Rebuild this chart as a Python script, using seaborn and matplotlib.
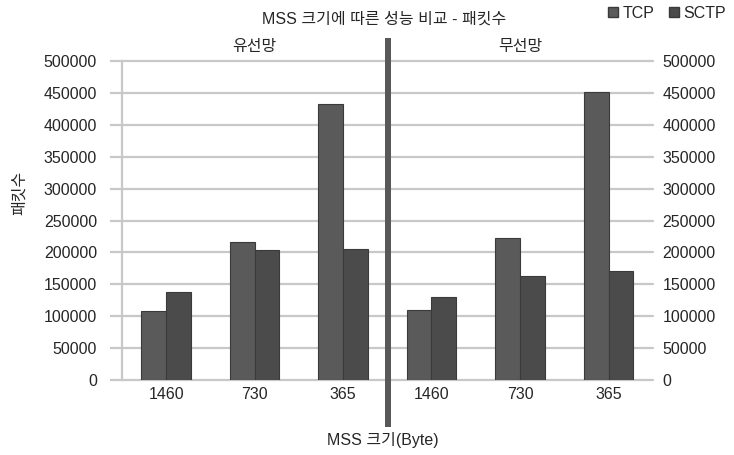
import matplotlib
matplotlib.use("Agg")
import matplotlib.pyplot as plt
import matplotlib.patches as mpatches
import seaborn as sns
import pandas as pd

# MSS sizes (bytes) on the x axis
mss_sizes = ["1460", "730", "365"]
protocols = ["TCP", "SCTP"]

# Packet counts, wired network
wired_tcp = [108000, 216000, 432000]
wired_sctp = [138000, 204000, 205000]

# Packet counts, wireless network
wireless_tcp = [110000, 222000, 452000]
wireless_sctp = [130000, 163000, 171000]

panel_titles = ["유선망", "무선망"]
yticks = list(range(0, 500001, 50000))

sns.set_theme(style="white")
plt.rcParams["font.family"] = ["Liberation Sans", "Noto Sans CJK KR", "DejaVu Sans"]

palette = {"TCP": "#5a5a5a", "SCTP": "#4b4b4b"}
grid_color = "#c8c8c8"
text_color = "#262626"
fs = 11.5


def make_frame(tcp, sctp):
    rows = []
    for size, t, s in zip(mss_sizes, tcp, sctp):
        rows.append({"MSS": size, "protocol": "TCP", "packets": t})
        rows.append({"MSS": size, "protocol": "SCTP", "packets": s})
    return pd.DataFrame(rows)


W, H = 734, 455
fig = plt.figure(figsize=(W / 100, H / 100), dpi=100)

ax_bottom = 1 - 380 / H
ax_height = (380 - 61) / H
ax_left = fig.add_axes([122 / W, ax_bottom, (387 - 122) / W, ax_height])
ax_right = fig.add_axes([387 / W, ax_bottom, (653 - 387) / W, ax_height])

frames = [make_frame(wired_tcp, wired_sctp), make_frame(wireless_tcp, wireless_sctp)]

for ax, df, title in zip([ax_left, ax_right], frames, panel_titles):
    for y in yticks:
        ax.axhline(y, color=grid_color, lw=1.6, zorder=0, clip_on=False)
    sns.barplot(data=df, x="MSS", y="packets", hue="protocol", hue_order=protocols,
                order=mss_sizes, palette=palette, width=0.56, ax=ax,
                edgecolor="#3a3a3a", linewidth=0.8, legend=False, zorder=3)
    ax.set_xlim(-0.5, 2.5)
    ax.set_ylim(0, 500000)
    ax.set_yticks(yticks)
    ax.set_xlabel("")
    ax.set_ylabel("")
    for sp in ax.spines.values():
        sp.set_visible(False)
    ax.tick_params(axis="x", length=0, pad=5, labelsize=fs, labelcolor=text_color)
    ax.text(0.5, 1.045, title, transform=ax.transAxes, ha="center", va="center",
            fontsize=fs, color=text_color)

# Left panel: value axis on the left with outward ticks
ax_left.spines["left"].set_visible(True)
ax_left.spines["left"].set_color(grid_color)
ax_left.spines["left"].set_linewidth(1.6)
ax_left.tick_params(axis="y", left=True, length=9, width=1.6, color=grid_color,
                    pad=9, labelsize=fs, labelcolor=text_color)
ax_left.set_yticklabels([str(v) for v in yticks])

# Right panel: value axis labels on the right
ax_right.yaxis.tick_right()
ax_right.tick_params(axis="y", right=True, length=0, pad=7, labelsize=fs,
                     labelcolor=text_color)
ax_right.set_yticklabels([str(v) for v in yticks])

# Dark separator between the two networks
fig.patches.append(mpatches.Rectangle((385 / W, 1 - 427 / H), 6 / W, (427 - 38) / H,
                                      transform=fig.transFigure, facecolor="#585858",
                                      edgecolor="none", zorder=5))

fig.text(384 / W, 1 - 19 / H, "MSS 크기에 따른 성능 비교 - 패킷수", ha="center",
         va="center", fontsize=fs, color=text_color)
fig.text(383 / W, 1 - 440 / H, "MSS 크기(Byte)", ha="center", va="center",
         fontsize=fs, color=text_color)
fig.text(19 / W, 1 - 193 / H, "패킷수", ha="center", va="center", rotation=90,
         fontsize=fs, color=text_color)

handles = [mpatches.Patch(facecolor=palette[p], edgecolor="#3a3a3a", label=p)
           for p in protocols]
fig.legend(handles=handles, loc="center right", bbox_to_anchor=(734 / W, 1 - 13 / H),
           ncol=2, frameon=False, fontsize=fs, handlelength=0.6, handleheight=0.6,
           handletextpad=0.3, columnspacing=0.9, borderaxespad=0.1)

fig.savefig("out.png", dpi=100)
